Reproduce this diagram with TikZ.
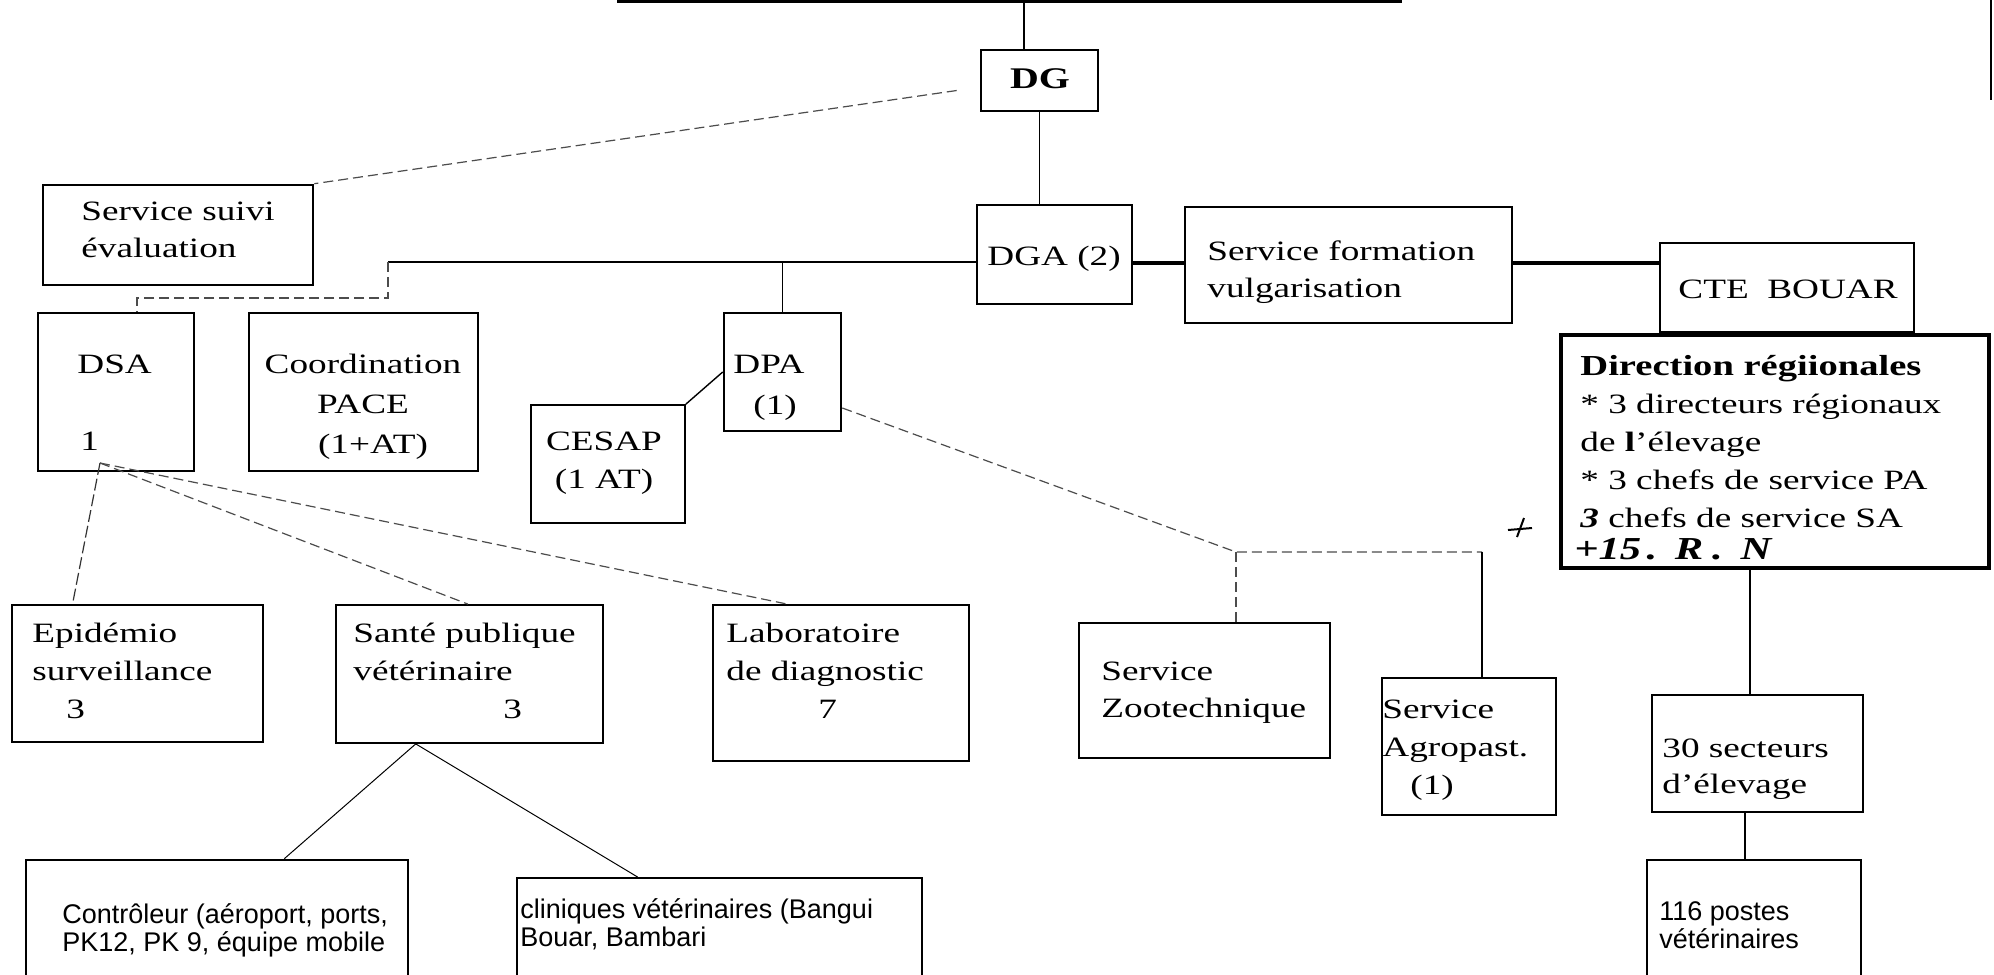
\documentclass[tikz,border=0pt]{standalone}
\usepackage{fontspec}
\setmainfont{Liberation Serif}[FakeStretch=1.33]
\newfontfamily\arialf{Liberation Sans}
\usetikzlibrary{fit,calc}

\newcommand{\mlines}[1]{\begin{tabular}[t]{@{}l@{}}#1\end{tabular}}
\newcommand{\clines}[1]{\begin{tabular}[t]{@{}c@{}}#1\end{tabular}}
\newcommand{\serifsz}{\fontsize{14}{18.5}\selectfont}
\newcommand{\sanssz}{\arialf\fontsize{13.5}{14}\selectfont}

\tikzset{
  box/.style={draw, line width=1.3pt, inner sep=0pt},
  lbox/.style={draw, line width=0.9pt, inner sep=0pt},
  txt/.style={anchor=base west, inner sep=0pt, font=\serifsz},
  ctxt/.style={anchor=base, inner sep=0pt, font=\serifsz},
  stxt/.style={anchor=base west, inner sep=0pt, font=\sanssz},
  conn/.style={line width=0.7pt},
  dconn/.style={line width=0.6pt, black!80, dash pattern=on 6pt off 2pt},
  faint/.style={line width=0.6pt, black!70, dash pattern=on 5pt off 2.5pt},
  thickconn/.style={line width=1.6pt}
}

\begin{document}
\begin{tikzpicture}[x=0.5pt, y=-0.5pt]
\useasboundingbox (0,0) rectangle (1994,975);
\clip (0,0) rectangle (1994,975);
\fill[white] (0,0) rectangle (1994,975);

% ---------- boxes ----------
\node[box,  fit={(981,50) (1098,111)}]   (dg) {};
\node[box,  fit={(43,185) (313,285)}]    (sse) {};
\node[box,  fit={(977,205) (1132,304)}]  (dga) {};
\node[box,  fit={(1185,207) (1512,323)}] (sfv) {};
\node[box,  fit={(1660,243) (1914,332)}] (cte) {};
\node[box,  line width=1.6pt, fit={(1561,335) (1989,568)}] (dr) {};
\node[box,  fit={(38,313) (194,471)}]    (dsa) {};
\node[lbox, fit={(249,313) (478,471)}]   (coord) {};
\node[box,  fit={(724,313) (841,431)}]   (dpa) {};
\node[lbox, fit={(531,405) (685,523)}]   (cesap) {};
\node[lbox, fit={(12,605) (263,742)}]    (epi) {};
\node[lbox, fit={(336,605) (603,743)}]   (spv) {};
\node[box,  fit={(713,605) (969,761)}]   (lab) {};
\node[lbox, fit={(1079,623) (1330,758)}] (sz) {};
\node[box,  fit={(1382,678) (1556,815)}] (sa) {};
\node[box,  fit={(1652,695) (1863,812)}] (sect) {};
\node[box,  fit={(1647,860) (1861,995)}] (postes) {};
\node[box,  fit={(26,860) (408,995)}]    (ctrl) {};
\node[lbox, fit={(517,878) (922,995)}]   (clin) {};

% ---------- texts ----------
\node[anchor=base, inner sep=0pt, font=\fontsize{15}{18}\selectfont\bfseries] (tdg) at (1040,88) {DG};
\node[txt] (tsse) at (81,220) {\mlines{Service suivi\\évaluation}};
\node[txt] (tdga) at (987,265) {DGA (2)};
\node[txt] (tsfv) at (1207,260) {\mlines{Service formation\\vulgarisation}};
\node[txt] (tcte) at (1678,298) {CTE\ \ BOUAR};
\node[txt, font=\fontsize{14}{19}\selectfont] (tdr) at (1580,375)
  {\mlines{{\fontsize{14.5}{19}\selectfont\bfseries Direction régiionales}\\
  {*} 3 directeurs régionaux\\de {\bfseries l}’élevage\\{*} 3 chefs de service PA\\
  {\bfseries\itshape 3} chefs de service SA}};
\node[txt, font=\fontsize{16}{18}\selectfont\bfseries\itshape] (tnote) at (1574,559) {+15\,.\;\;R\;.\;\;N};
\node[txt] (tdsa) at (77,373) {DSA};
\node[txt] (tdsa1) at (80,450) {1};
\node[ctxt, font=\fontsize{14}{20}\selectfont] (tcoord) at (363,373) {\clines{Coordination\\PACE\\\hspace*{10pt}(1+AT)}};
\node[txt] (tdpa) at (733,373) {DPA};
\node[txt] (tdpa1) at (753,414) {(1)};
\node[ctxt, font=\fontsize{14}{19}\selectfont] (tcesap) at (604,450) {\clines{CESAP\\(1 AT)}};
\node[txt, font=\fontsize{14}{19}\selectfont] (tepi) at (32,642) {\mlines{Epidémio\\surveillance\\\hspace*{17pt}3}};
\node[txt, font=\fontsize{14}{19}\selectfont] (tspv) at (353,642) {\mlines{Santé publique\\vétérinaire\\\hspace*{75pt}3}};
\node[txt, font=\fontsize{14}{19}\selectfont] (tlab) at (726,642) {\mlines{Laboratoire\\de diagnostic\\\hspace*{46pt}7}};
\node[txt] (tsz) at (1101,680) {\mlines{Service\\Zootechnique}};
\node[txt, font=\fontsize{14}{19.2}\selectfont] (tsa) at (1382,718) {\mlines{Service\\Agropast.\\\hspace*{14pt}(1)}};
\node[txt, font=\fontsize{14}{18}\selectfont] (tsect) at (1662,757) {\mlines{30 secteurs\\d’élevage}};
\node[stxt] (tpostes) at (1659,920) {\mlines{116 postes\\vétérinaires}};
\node[stxt] (tctrl) at (62,923) {\mlines{Contrôleur (aéroport, ports,\\PK12, PK 9, équipe mobile}};
\node[stxt] (tclin) at (520,918) {\mlines{cliniques vétérinaires (Bangui\\Bouar, Bambari}};

% ---------- connectors ----------
\coordinate (topL) at (617,1.5);
\coordinate (topR) at (1402,1.5);
\coordinate (topM) at (1024,1.5);
\draw[line width=1.6pt] (topL) -- (topR);
\draw[conn] (topM) -- (topM |- dg.north);
\coordinate (edgeT) at (1991,0);
\coordinate (edgeB) at (1991,100);
\draw[line width=1.4pt] (edgeT) -- (edgeB);

\draw[conn] (dg.south) -- (dg.south |- dga.north);
\draw[faint] ([shift={(-23,10)}]dg.west) -- (sse.north east);

\coordinate (hy) at (0,263);
\draw[thickconn] (dga.east |- hy) -- (sfv.west |- hy);
\draw[thickconn] (sfv.east |- hy) -- (cte.west |- hy);

\coordinate (j1) at (388,262);
\coordinate (j2) at (388,298);
\coordinate (j3) at (137,298);
\draw[conn] (dga.west |- j1) -- (j1);
\draw[faint] (j1) -- (j2) -- (j3) -- (j3 |- dsa.north);
\draw[conn] (dpa.north |- j1) -- (dpa.north);
\draw[conn] (cesap.north east) -- (dpa.west);

\coordinate (j4) at (1236,552);
\coordinate (j5) at (1482,552);
\draw[faint] ([shift={(0,36)}]dpa.east) -- (j4) -- (j5);
\draw[faint] (j4) -- (j4 |- sz.north);
\draw[conn] (j5) -- (j5 |- sa.north);

\coordinate (dsaf) at (100,463);
\draw[dconn] (dsaf) -- ($(epi.north west)!0.243!(epi.north east)$);
\draw[faint] (dsaf) -- ($(spv.north west)!0.494!(spv.north east)$);
\draw[faint] (dsaf) -- ($(lab.north west)!0.285!(lab.north east)$);

\draw[conn, line width=0.5pt] ($(spv.south west)!0.30!(spv.south east)$) -- ($(ctrl.north west)!0.675!(ctrl.north east)$);
\draw[conn, line width=0.5pt] ($(spv.south west)!0.30!(spv.south east)$) -- ($(clin.north west)!0.299!(clin.north east)$);

\coordinate (vx) at (1750,0);
\coordinate (vx2) at (1745,0);
\draw[conn] (dr.south -| vx) -- (sect.north -| vx);
\draw[conn] (sect.south -| vx2) -- (postes.north -| vx2);

% stray handwritten mark
\draw[line width=1pt] (1508,530) -- (1532,528);
\draw[line width=1pt] (1524,518) -- (1517,537);
\end{tikzpicture}
\end{document}
